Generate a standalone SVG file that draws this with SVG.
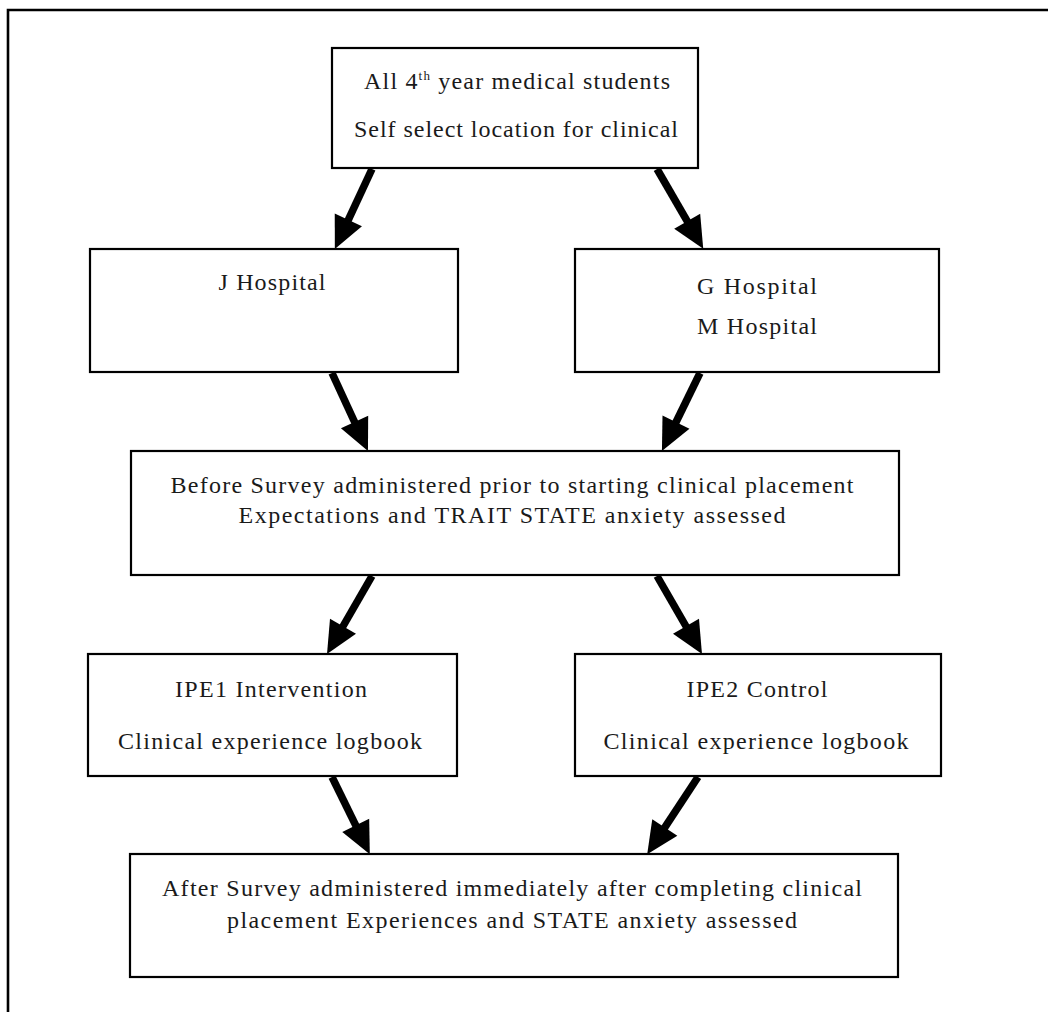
<svg xmlns="http://www.w3.org/2000/svg" width="1048" height="1012" viewBox="0 0 1048 1012">
<style>
  .box { fill: #ffffff; stroke: #000000; stroke-width: 2.2; }
  .frame { fill: none; stroke: #000000; stroke-width: 2.6; }
  .t { font-family: "Liberation Serif", "Times New Roman", serif; font-size: 24px; fill: #1a1a1a; text-anchor: middle; }
  .conn { stroke: #000000; stroke-width: 7.5; fill: none; marker-end: url(#head); }
</style>
<defs>
  <marker id="head" markerUnits="userSpaceOnUse" markerWidth="34" markerHeight="32" refX="2" refY="15" orient="auto" overflow="visible">
    <path d="M0,0 L32,15 L0,30 Z" fill="#000000"/>
  </marker>
</defs>
<rect x="0" y="0" width="1048" height="1012" fill="#ffffff"/>
<path class="frame" d="M8,1012 L8,10 L1048,10"/>

<g id="node-all-students">
  <rect class="box" x="332" y="48" width="366" height="120"/>
  <text class="t" x="517" y="89" textLength="306" lengthAdjust="spacing">All 4<tspan font-size="13" dy="-9">th</tspan><tspan dy="9"> year medical students</tspan></text>
  <text class="t" x="516" y="137" textLength="324" lengthAdjust="spacing">Self select location for clinical</text>
</g>

<g id="node-j-hospital">
  <rect class="box" x="90" y="249" width="368" height="123"/>
  <text class="t" x="272" y="290" textLength="107" lengthAdjust="spacing">J Hospital</text>
</g>

<g id="node-gm-hospital">
  <rect class="box" x="575" y="249" width="364" height="123"/>
  <text class="t" x="757" y="294" textLength="120" lengthAdjust="spacing">G Hospital</text>
  <text class="t" x="757" y="334" textLength="120" lengthAdjust="spacing">M Hospital</text>
</g>

<g id="node-before-survey">
  <rect class="box" x="131" y="451" width="768" height="124"/>
  <text class="t" x="512" y="493" textLength="683" lengthAdjust="spacing">Before Survey administered prior to starting clinical placement</text>
  <text class="t" x="512" y="523" textLength="547" lengthAdjust="spacing">Expectations and TRAIT STATE anxiety assessed</text>
</g>

<g id="node-ipe1">
  <rect class="box" x="88" y="654" width="369" height="122"/>
  <text class="t" x="271" y="697" textLength="192" lengthAdjust="spacing">IPE1 Intervention</text>
  <text class="t" x="270" y="749" textLength="304" lengthAdjust="spacing">Clinical experience logbook</text>
</g>

<g id="node-ipe2">
  <rect class="box" x="575" y="654" width="366" height="122"/>
  <text class="t" x="757" y="697" textLength="141" lengthAdjust="spacing">IPE2 Control</text>
  <text class="t" x="756" y="749" textLength="305" lengthAdjust="spacing">Clinical experience logbook</text>
</g>

<g id="node-after-survey">
  <rect class="box" x="130" y="854" width="768" height="123"/>
  <text class="t" x="512" y="896" textLength="700" lengthAdjust="spacing">After Survey administered immediately after completing clinical</text>
  <text class="t" x="512" y="928" textLength="570" lengthAdjust="spacing">placement Experiences and STATE anxiety assessed</text>
</g>

<g id="connectors">
  <line class="conn" x1="372" y1="169" x2="347.5" y2="221.7"/>
  <line class="conn" x1="657" y1="169" x2="688.2" y2="222.9"/>
  <line class="conn" x1="332" y1="373" x2="355.4" y2="423.8"/>
  <line class="conn" x1="700" y1="373" x2="675.1" y2="424"/>
  <line class="conn" x1="372" y1="576" x2="342" y2="628"/>
  <line class="conn" x1="657" y1="576" x2="687" y2="628"/>
  <line class="conn" x1="332" y1="777" x2="356.6" y2="827.2"/>
  <line class="conn" x1="698" y1="777" x2="663.7" y2="829.1"/>
</g>
</svg>
